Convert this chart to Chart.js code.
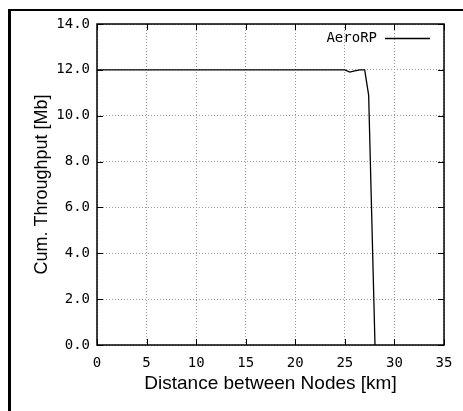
<!DOCTYPE html>
<html>
<head>
<meta charset="utf-8">
<script src="https://cdn.jsdelivr.net/npm/chart.js@4/dist/chart.umd.min.js"></script>
<style>
	body { margin: 0; background: #fff; }
	#chartDiv { width: 463px; height: 411px; position: relative; }
</style>
</head>
<body>
<div id="chartDiv"><canvas id="myChart"></canvas></div>
<script>

// 노드 간 거리 [km]
const distance = [0, 1, 2, 3, 4, 5, 6, 7, 8, 9, 10, 11, 12, 13, 14, 15, 16, 17, 18, 19, 20,
	21, 22, 23, 24, 25, 25.5, 26, 26.5, 27, 27.4, 28.04];
// 누적 처리량 [Mb]
const throughput = [12, 12, 12, 12, 12, 12, 12, 12, 12, 12, 12, 12, 12, 12, 12, 12, 12, 12, 12, 12, 12,
	12, 12, 12, 12, 12, 11.9, 11.96, 12, 12, 10.9, 0];

const xTicks = [0, 5, 10, 15, 20, 25, 30, 35];
const yTicks = [0, 2, 4, 6, 8, 10, 12, 14];
const seriesName = 'AeroRP';

const monoFont = '"DejaVu Sans Mono", monospace';
const sansFont = '"Liberation Sans", Arial, sans-serif';

// 바깥 테두리, 그래프 테두리, 안쪽 눈금, 범례
const framePlugin = {
	id: 'frame',
	afterDraw(chart) {
		const ctx = chart.ctx;
		const a = chart.chartArea;
		const xs = chart.scales.x;
		const ys = chart.scales.y;
		ctx.save();

		ctx.fillStyle = '#000';
		ctx.fillRect(8, 9, 463, 2);
		ctx.fillRect(8, 9, 3, 411);

		ctx.strokeStyle = '#000';
		ctx.lineWidth = 1.5;
		ctx.strokeRect(a.left, a.top, a.right - a.left, a.bottom - a.top);

		ctx.lineWidth = 1;
		ctx.beginPath();
		xTicks.forEach(v => {
			const px = Math.round(xs.getPixelForValue(v)) + 0.5;
			ctx.moveTo(px, a.bottom); ctx.lineTo(px, a.bottom - 6);
			ctx.moveTo(px, a.top); ctx.lineTo(px, a.top + 6);
		});
		yTicks.forEach(v => {
			const py = Math.round(ys.getPixelForValue(v)) + 0.5;
			ctx.moveTo(a.left, py); ctx.lineTo(a.left + 6, py);
			ctx.moveTo(a.right, py); ctx.lineTo(a.right - 6, py);
		});
		ctx.stroke();

		// 범례
		ctx.fillStyle = '#000';
		ctx.font = '14px ' + monoFont;
		ctx.textAlign = 'right';
		ctx.textBaseline = 'middle';
		ctx.fillText(seriesName, 377, 38);
		ctx.lineWidth = 1.3;
		ctx.beginPath();
		ctx.moveTo(385, 38.5);
		ctx.lineTo(430, 38.5);
		ctx.stroke();

		ctx.restore();
	}
};

const ctx = document.getElementById('myChart');

new Chart(ctx, {
	type: 'line',
	data: {
		datasets: [{
			label: seriesName,
			data: distance.map((d, i) => ({ x: d, y: throughput[i] })),
			borderColor: '#000',
			borderWidth: 1.3,
			pointRadius: 0,
			tension: 0,
			fill: false
		}]
	},
	options: {
		responsive: true,
		maintainAspectRatio: false,
		animation: false,
		layout: { padding: { top: 24, right: 19, bottom: 0, left: 0 } },
		plugins: {
			legend: { display: false },
			tooltip: { enabled: false }
		},
		scales: {
			x: {
				type: 'linear',
				min: 0,
				max: 35,
				afterFit: s => { s.height = 66; },
				afterBuildTicks: s => { s.ticks = xTicks.map(v => ({ value: v })); },
				grid: { color: '#999', lineWidth: 1, drawTicks: false },
				border: { display: false, dash: [1, 2] },
				ticks: {
					color: '#000',
					padding: 10,
					maxRotation: 0,
					font: { family: monoFont, size: 14 }
				},
				title: {
					display: true,
					text: 'Distance between Nodes [km]',
					color: '#000',
					font: { family: sansFont, size: 19 },
					padding: { top: 0, bottom: 16 }
				}
			},
			y: {
				min: 0,
				max: 14,
				afterFit: s => { s.width = 97; },
				afterBuildTicks: s => { s.ticks = yTicks.map(v => ({ value: v })); },
				grid: { color: '#999', lineWidth: 1, drawTicks: false },
				border: { display: false, dash: [1, 2] },
				ticks: {
					color: '#000',
					padding: 7,
					font: { family: monoFont, size: 14 },
					callback: v => v.toFixed(1)
				},
				title: {
					display: true,
					text: 'Cum. Throughput [Mb]',
					color: '#000',
					font: { family: sansFont, size: 18 },
					padding: { top: 31, bottom: 0 }
				}
			}
		}
	},
	plugins: [framePlugin]
});
</script>
</body>
</html>
